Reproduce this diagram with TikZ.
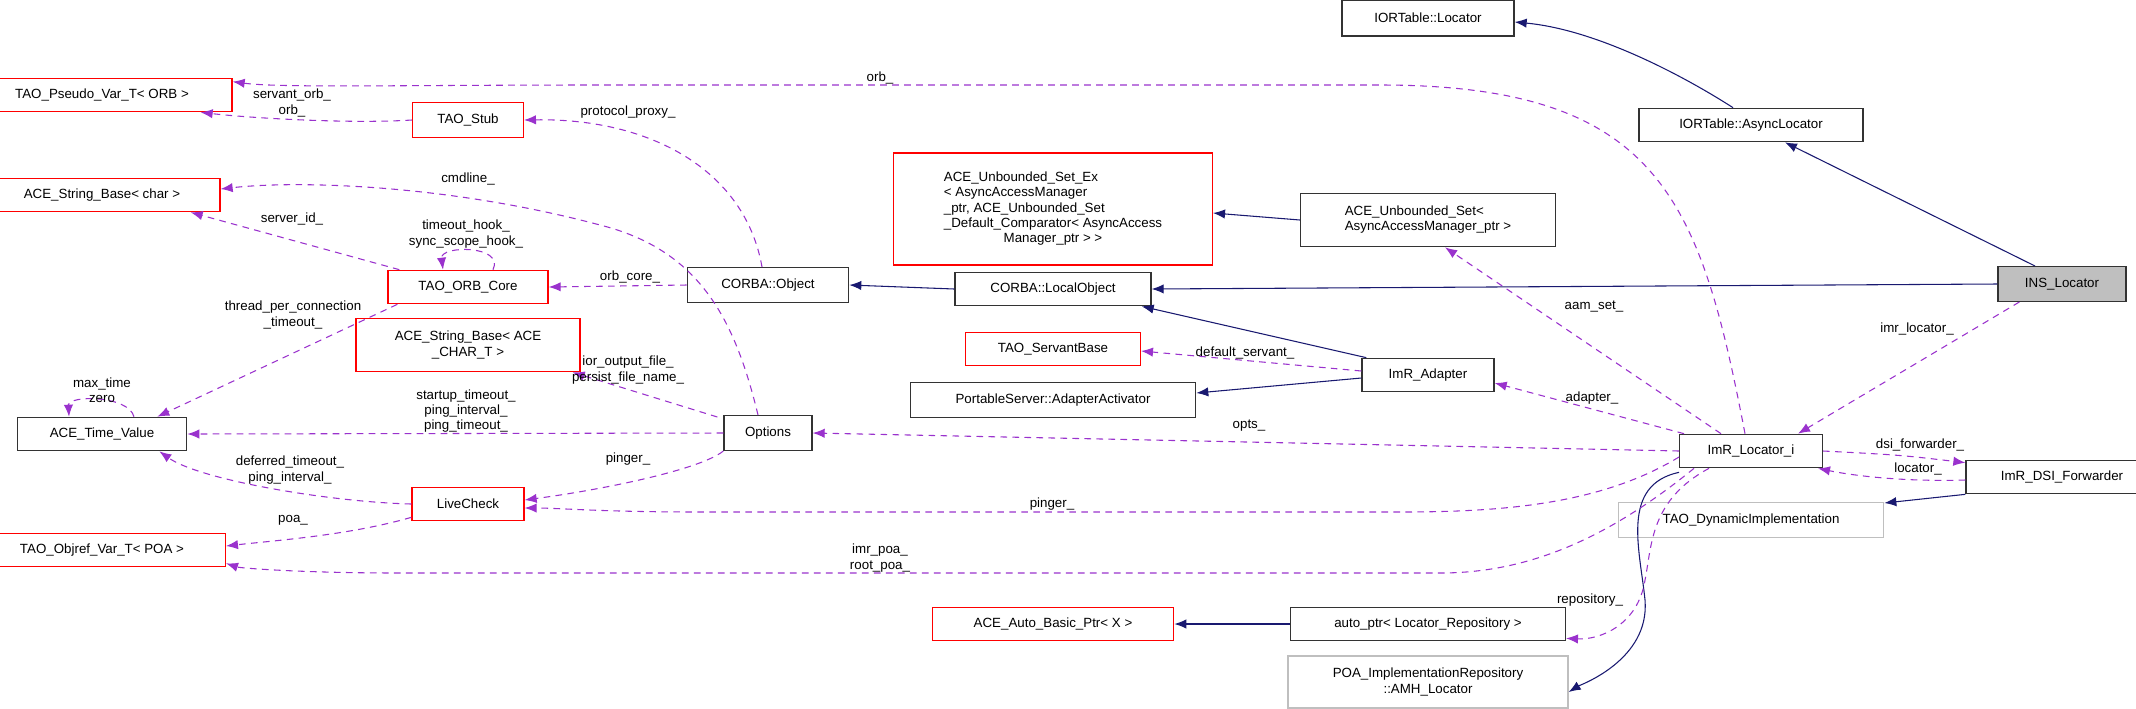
\documentclass[tikz,border=0pt]{standalone}
\usepackage{fontspec}
\setmainfont{Liberation Sans}
\usetikzlibrary{arrows.meta,calc}
\definecolor{inhc}{HTML}{191970}
\definecolor{usec}{HTML}{9A32CD}
\definecolor{boxgray}{HTML}{BFBFBF}
\begin{document}
\begin{tikzpicture}[x=0.75pt,y=-0.75pt,
  every node/.style={font=\fontsize{10}{11.5}\selectfont, inner sep=1pt},
  box/.style={draw=black!80, line width=1pt, fill=white, align=center},
  rbox/.style={box, draw=red},
  gbox/.style={box, draw=boxgray},
  inh/.style={draw=inhc, line width=0.8pt, -{Latex[length=9pt,width=7pt]}},
  use/.style={draw=usec, line width=0.8pt, dash pattern=on 5pt off 4pt, -{Latex[length=9pt,width=7pt]}},
  lbl/.style={align=center, fill=none}]
\useasboundingbox (0,0) rectangle (2136,708);
% nodes
\node[rbox, minimum width=195, minimum height=25] (pseudo) at (102,95) {TAO\_Pseudo\_Var\_T< ORB >};
\node[rbox, minimum width=83, minimum height=26] (stub) at (468,120) {TAO\_Stub};
\node[rbox, minimum width=177, minimum height=25] (strchar) at (102,195) {ACE\_String\_Base< char >};
\node[rbox, minimum width=120, minimum height=25] (orbcore) at (468,287) {TAO\_ORB\_Core};
\node[box, minimum width=121, minimum height=26] (cobj) at (768,285) {CORBA::Object};
\node[rbox, minimum width=168, minimum height=40] (strace) at (468,345) {ACE\_String\_Base< ACE\\\_CHAR\_T >};
\node[box, minimum width=127, minimum height=25] (timev) at (102,434) {ACE\_Time\_Value};
\node[box, minimum width=66, minimum height=26] (options) at (768,433) {Options};
\node[rbox, minimum width=84, minimum height=25] (livecheck) at (468,504) {LiveCheck};
\node[rbox, minimum width=185, minimum height=25] (objref) at (102,550) {TAO\_Objref\_Var\_T< POA >};
\node[box, minimum width=129, minimum height=27] (iorloc) at (1428,18) {IORTable::Locator};
\node[rbox, minimum width=239, minimum height=84] (setex) at (1053,209) {\begin{tabular}{@{}l@{}}ACE\_Unbounded\_Set\_Ex\\< AsyncAccessManager\\\_ptr, ACE\_Unbounded\_Set\\\_Default\_Comparator< AsyncAccess\\\multicolumn{1}{@{}c@{}}{Manager\_ptr > >}\end{tabular}};
\node[box, minimum width=191, minimum height=40] (uset) at (1428,220) {\begin{tabular}{@{}l@{}}ACE\_Unbounded\_Set<\\ AsyncAccessManager\_ptr >\end{tabular}};
\node[box, minimum width=147, minimum height=25] (localobj) at (1053,289) {CORBA::LocalObject};
\node[rbox, minimum width=131, minimum height=25] (servant) at (1053,349) {TAO\_ServantBase};
\node[box, minimum width=99, minimum height=25] (adapter) at (1428,375) {ImR\_Adapter};
\node[box, minimum width=214, minimum height=26] (actv) at (1053,400) {PortableServer::AdapterActivator};
\node[rbox, minimum width=181, minimum height=25] (autobasic) at (1053,624) {ACE\_Auto\_Basic\_Ptr< X >};
\node[box, minimum width=206, minimum height=25] (autoptr) at (1428,624) {auto\_ptr< Locator\_Repository >};
\node[gbox, minimum width=210, minimum height=39] (amh) at (1428,682) {POA\_ImplementationRepository\\::AMH\_Locator};
\node[box, minimum width=168, minimum height=25] (async) at (1751,125) {IORTable::AsyncLocator};
\node[box, fill=boxgray, minimum width=96, minimum height=26] (ins) at (2062,284) {INS\_Locator};
\node[box, minimum width=107, minimum height=25] (locator) at (1751,451) {ImR\_Locator\_i};
\node[box, minimum width=144, minimum height=25] (dsi) at (2062,477) {ImR\_DSI\_Forwarder};
\node[gbox, minimum width=199, minimum height=26] (dynimpl) at (1751,520) {TAO\_DynamicImplementation};
% inheritance
\draw[inh] ($(async.north)+(-18,0)$) .. controls (1690,80) and (1600,30) .. ($(iorloc.east)+(0,4)$);
\draw[inh] ($(ins.north)+(-27,0)$) -- ($(async.south)+(34,0)$);
\draw[inh] (ins.west) -- (localobj.east);
\draw[inh] (localobj.west) -- (cobj.east);
\draw[inh] (uset.west) -- ($(setex.east)+(0,4)$);
\draw[inh] ($(adapter.north west)+(5,0)$) -- ($(localobj.south east)+(-10,0)$);
\draw[inh] ($(adapter.west)+(0,3)$) -- ($(actv.east)+(0,-7)$);
\draw[inh] (autoptr.west) -- (autobasic.east);
\draw[inh] (dsi.south west) -- ($(dynimpl.north east)+(0,1)$);
\draw[inh] ($(locator.south west)+(0,4)$) .. controls (1620,485) and (1640,550) .. (1645,600) .. controls (1650,660) and (1580,685) .. ($(amh.east)+(0,10)$);
% usage
\draw[use] ($(locator.north)+(-6,0)$) .. controls (1700,200) and (1660,85) .. (1380,85) -- (600,85) .. controls (400,85) and (280,88) .. ($(pseudo.north east)+(0,4)$);
\node[lbl] (l1) at (880,78) {orb\_};
\draw[use] (stub.west) .. controls (350,124) and (250,118) .. ($(pseudo.south east)+(-32,0)$);
\node[lbl] (l2) at (292,103) {servant\_orb\_\\orb\_};
\draw[use] ($(cobj.north)+(-6,0)$) .. controls (745,170) and (650,118) .. (stub.east);
\node[lbl] (l3) at (628,112) {protocol\_proxy\_};
\draw[use] ($(options.north)+(-10,0)$) .. controls (735,320) and (700,250) .. (600,225) .. controls (450,185) and (300,180) .. ($(strchar.east)+(0,-6)$);
\node[lbl] (l4) at (468,179) {cmdline\_};
\draw[use] ($(orbcore.north west)+(12,0)$) -- ($(strchar.south east)+(-30,0)$);
\node[lbl] (l5) at (292,219) {server\_id\_};
\draw[use] ($(orbcore.north)+(25,0)$) .. controls (505,245) and (440,245) .. ($(orbcore.north)+(-25,0)$);
\node[lbl] (l6) at (466,234) {timeout\_hook\_\\sync\_scope\_hook\_};
\draw[use] (cobj.west) -- (orbcore.east);
\node[lbl] (l7) at (630,277) {orb\_core\_};
\draw[use] ($(orbcore.south west)+(10,0)$) -- ($(timev.north east)+(-30,0)$);
\node[lbl] (l8) at (293,315) {thread\_per\_connection\\\_timeout\_};
\draw[use] ($(timev.north)+(32,0)$) .. controls (128,395) and (68,395) .. ($(timev.north)+(-33,0)$);
\node[lbl] (l9) at (102,390) {max\_time\\zero};
\draw[use] ($(options.north west)+(-6,2)$) -- ($(strace.south east)+(-8,0)$);
\node[lbl] (l10) at (628,370) {ior\_output\_file\_\\persist\_file\_name\_};
\draw[use] (options.west) -- (timev.east);
\node[lbl] (l11) at (466,411) {startup\_timeout\_\\ping\_interval\_\\ping\_timeout\_};
\draw[use] (livecheck.west) .. controls (330,502) and (200,480) .. ($(timev.south east)+(-28,0)$);
\node[lbl] (l12) at (290,470) {deferred\_timeout\_\\ping\_interval\_};
\draw[use] (options.south west) .. controls (700,470) and (600,490) .. ($(livecheck.east)+(0,-4)$);
\node[lbl] (l13) at (628,459) {pinger\_};
\draw[use] ($(locator.west)+(0,6)$) .. controls (1600,505) and (1500,512) .. (1400,512) -- (700,512) .. controls (600,512) and (560,508) .. ($(livecheck.east)+(0,4)$);
\node[lbl] (l14) at (1052,504) {pinger\_};
\draw[use] ($(livecheck.south west)+(0,-4)$) .. controls (350,535) and (280,540) .. ($(objref.east)+(0,-4)$);
\node[lbl] (l15) at (293,520) {poa\_};
\draw[use] ($(locator.south west)+(15,0)$) .. controls (1600,545) and (1520,573) .. (1440,573) -- (400,573) .. controls (300,573) and (240,568) .. ($(objref.south east)+(0,-4)$);
\node[lbl] (l16) at (880,558) {imr\_poa\_\\root\_poa\_};
\draw[use] ($(locator.north)+(-30,0)$) -- ($(uset.south)+(17,0)$);
\node[lbl] (l17) at (1594,307) {aam\_set\_};
\draw[use] ($(locator.north west)+(5,0)$) -- ($(adapter.east)+(0,8)$);
\node[lbl] (l18) at (1592,398) {adapter\_};
\draw[use] (locator.west) -- (options.east);
\node[lbl] (l19) at (1249,426) {opts\_};
\draw[use] ($(ins.south west)+(22,0)$) -- ($(locator.north east)+(-25,0)$);
\node[lbl] (l20) at (1917,329) {imr\_locator\_};
\draw[use] (locator.east) .. controls (1900,455) .. ($(dsi.north west)+(0,3)$);
\node[lbl] (l21) at (1920,445) {dsi\_forwarder\_};
\draw[use] ($(dsi.west)+(0,3)$) .. controls (1900,482) and (1850,475) .. ($(locator.south east)+(-5,0)$);
\node[lbl] (l22) at (1918,469) {locator\_};
\draw[use] ($(adapter.west)+(0,-4)$) -- ($(servant.east)+(0,2)$);
\node[lbl] (l23) at (1245,353) {default\_servant\_};
\draw[use] ($(locator.south west)+(30,0)$) .. controls (1650,500) and (1652,545) .. (1645,580) .. controls (1638,625) and (1600,640) .. ($(autoptr.south east)+(0,-3)$);
\node[lbl] (l24) at (1590,600) {repository\_};
\end{tikzpicture}
\end{document}
